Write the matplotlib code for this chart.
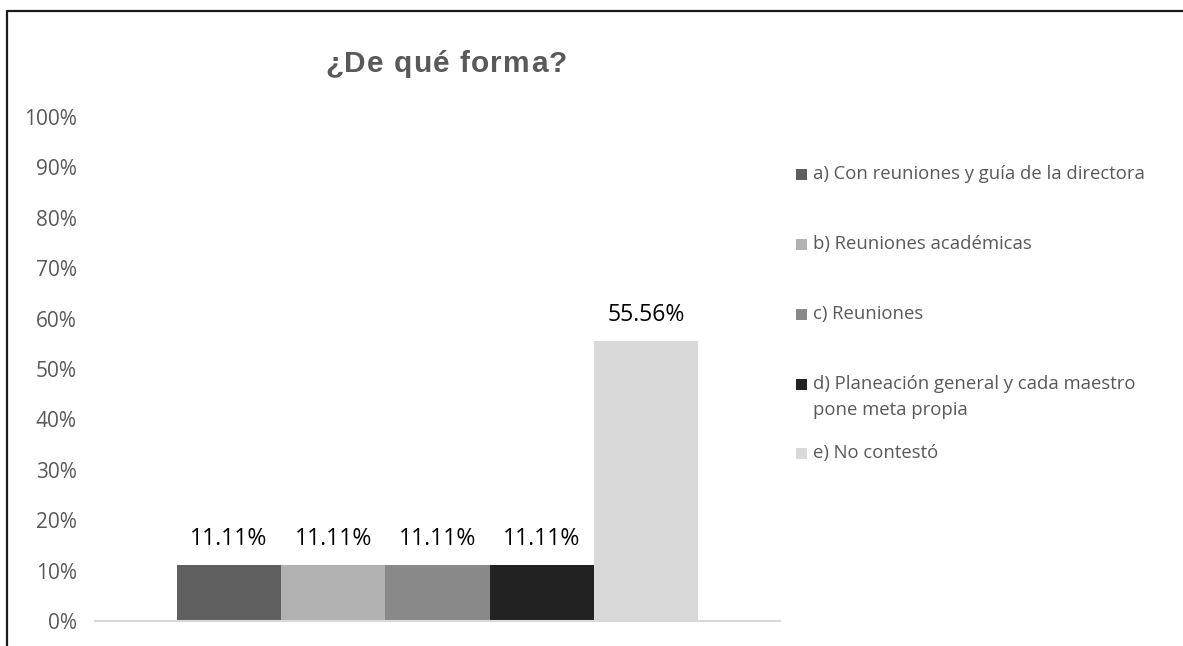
import matplotlib
matplotlib.use("Agg")
import matplotlib.pyplot as plt
from matplotlib.patches import Rectangle
from matplotlib.lines import Line2D
import numpy as np

# ---- data ----
title = "¿De qué forma?"
series_labels = [
    "a) Con reuniones y guía de la directora",
    "b) Reuniones académicas",
    "c) Reuniones",
    "d) Planeación general y cada maestro\npone meta propia",
    "e) No contestó",
]
values = [11.11, 11.11, 11.11, 11.11, 55.56]
colors = ["#5f5f5f", "#b2b2b2", "#898989", "#222222", "#d9d9d9"]
yticks = [0, 10, 20, 30, 40, 50, 60, 70, 80, 90, 100]
ytick_labels = [f"{v}%" for v in yticks]

W, H = 1183, 646
fig = plt.figure(figsize=(W / 100, H / 100), dpi=100)
fig.patch.set_facecolor("white")

def fx(px):
    return px / W

def fy(py):
    return (H - py) / H

# axes: x 95..780, y 0% at 621, 100% at 117
ax = fig.add_axes([fx(95), fy(621), fx(780) - fx(95), fy(117) - fy(621)])
ax.set_xlim(-0.5, 0.5)
ax.set_ylim(0, 100)

n = len(values)
bw = 0.1521
offsets = (np.arange(n) - (n - 1) / 2) * bw
bars = ax.bar(offsets, values, width=bw, color=colors, linewidth=0)

for b, v in zip(bars, values):
    ax.annotate(f"{v:.2f}%", (b.get_x() + b.get_width() / 2, v),
                xytext=(0, 14.4), textcoords="offset points",
                ha="center", va="baseline", fontsize=16.6,
                family="Open Sans", color="black")

ax.set_yticks(yticks)
ax.set_yticklabels(ytick_labels, family="Open Sans", fontsize=15, color="#595959")
ax.tick_params(axis="y", length=0, pad=13)
ax.set_xticks([])
for s in ["left", "right", "top"]:
    ax.spines[s].set_visible(False)
ax.spines["bottom"].set_color("#d9d9d9")
ax.spines["bottom"].set_linewidth(1.5)

# ---- title with slight letter spacing ----
renderer = fig.canvas.get_renderer()
tkw = dict(fontsize=21.5, fontweight="bold", family="Liberation Sans", color="#595959")

def twidth(s):
    t = fig.text(0, 0, s, **tkw)
    w = t.get_window_extent(renderer).width
    t.remove()
    return w

ref = twidth("I")
full = twidth(title)
target = 242.0
spacing = max(0.0, (target - full) / (len(title) - 1))
x0 = 325.0
for i, ch in enumerate(title):
    pre = twidth(title[:i] + "I") - ref if i > 0 else 0.0
    fig.text(fx(x0 + pre + i * spacing), fy(72), ch, ha="left", va="baseline", **tkw)

# ---- legend ----
leg_y = [174, 244, 314, 384, 453]
for lab, c, yc in zip(series_labels, colors, leg_y):
    fig.patches.append(Rectangle((fx(796), fy(yc + 5.5)), fx(11), 11 / H,
                                 transform=fig.transFigure, facecolor=c,
                                 edgecolor="none"))
    for j, line in enumerate(lab.split("\n")):
        fig.text(fx(813), fy(yc + j * 26), line, ha="left", va="center",
                 family="Open Sans", fontsize=13.3, color="#595959")

# ---- outer border (cropped) ----
fig.add_artist(Line2D([fx(7), fx(7), fx(W + 5)], [fy(H + 5), fy(11), fy(11)],
                      transform=fig.transFigure, color="#1a1a1a", linewidth=1.6))

fig.savefig("out.png", dpi=100, facecolor="white")
